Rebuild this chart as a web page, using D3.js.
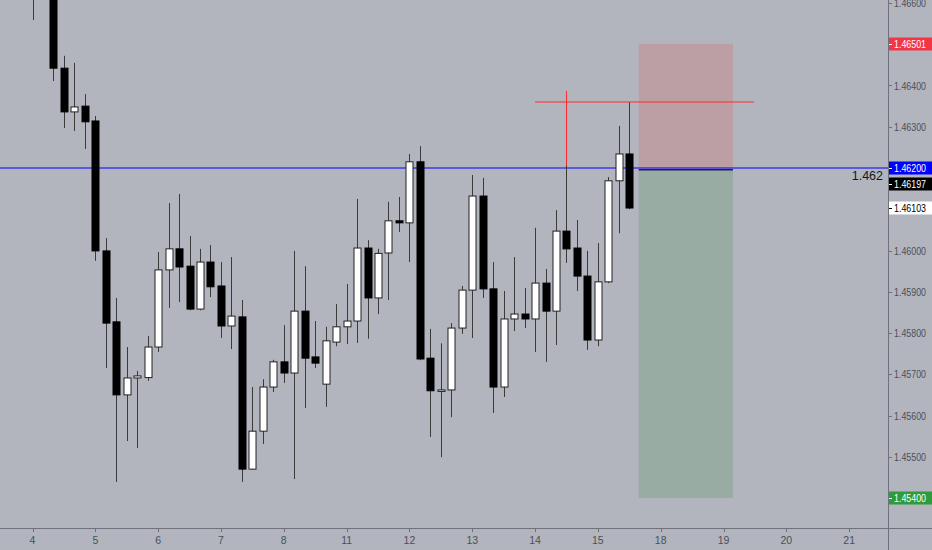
<!DOCTYPE html>
<html><head><meta charset="utf-8">
<script src="https://cdn.jsdelivr.net/npm/d3@7"></script>
<style>
html,body{margin:0;padding:0;background:#b2b5be;}
svg{display:block;}
</style></head>
<body>
<svg id="chart" width="932" height="550"></svg>
<script>
// ---- data ----
const opens  = [1.46650,1.46620,1.46700,1.46442,1.46336,1.46350,1.46314,1.45999,1.45827,1.45650,
  1.45691,1.45692,1.45766,1.45953,1.46004,1.45962,1.45858,1.45972,1.45914,1.45817,
  1.45839,1.45470,1.45562,1.45669,1.45730,1.45703,1.45853,1.45742,1.45676,1.45778,
  1.45815,1.45829,1.46006,1.45885,1.45994,1.46072,1.46067,1.46215,1.45739,1.45660,
  1.45662,1.45812,1.45904,1.46132,1.45907,1.45669,1.45834,1.45846,1.45834,1.45921,
  1.45853,1.46047,1.46006,1.45938,1.45783,1.45924,1.46169,1.46234];
const highs  = [1.46700,1.46720,1.46730,1.46472,1.46455,1.46379,1.46326,1.46030,1.45885,1.45766,
  1.45708,1.45793,1.45996,1.46115,1.46137,1.46035,1.46004,1.46013,1.45972,1.45984,
  1.45880,1.45669,1.45688,1.45735,1.45819,1.45999,1.45962,1.45829,1.45815,1.45870,
  1.45919,1.46125,1.46025,1.46004,1.46118,1.46130,1.46234,1.46253,1.45810,1.45775,
  1.45824,1.45914,1.46183,1.46176,1.45972,1.45902,1.45984,1.45909,1.46055,1.45955,
  1.46098,1.46207,1.46074,1.45999,1.46018,1.46178,1.46302,1.46360];
const lows   = [1.46559,1.46612,1.46411,1.46297,1.46290,1.46246,1.45975,1.45715,1.45439,1.45538,
  1.45521,1.45684,1.45754,1.45861,1.45875,1.45855,1.45855,1.45887,1.45788,1.45761,
  1.45439,1.45468,1.45531,1.45657,1.45679,1.45446,1.45618,1.45715,1.45621,1.45768,
  1.45773,1.45776,1.45786,1.45846,1.45880,1.46045,1.45972,1.45734,1.45548,1.45499,
  1.45596,1.45798,1.45788,1.45885,1.45606,1.45645,1.45805,1.45812,1.45754,1.45730,
  1.45771,1.45970,1.45902,1.45759,1.45768,1.45921,1.46042,1.46100];
const closes = [1.46620,1.46700,1.46442,1.46336,1.46348,1.46312,1.45999,1.45824,1.45650,1.45691,
  1.45696,1.45766,1.45953,1.46004,1.45960,1.45858,1.45972,1.45912,1.45817,1.45841,
  1.45470,1.45562,1.45669,1.45730,1.45703,1.45853,1.45739,1.45727,1.45781,1.45815,
  1.45829,1.46006,1.45885,1.45993,1.46072,1.46067,1.46215,1.45737,1.45660,1.45662,
  1.45812,1.45904,1.46132,1.45907,1.45669,1.45834,1.45846,1.45834,1.45921,1.45853,
  1.46047,1.46004,1.45938,1.45783,1.45924,1.46169,1.46234,1.46103];

const dayLabels = ["4","5","6","7","8","11","12","13","14","15","18","19","20","21"];
const candlesPerDay = 6;
const priceTicks = [1.466,1.464,1.463,1.461,1.460,1.459,1.458,1.457,1.456,1.455];

// drawings
const hLinePrice = 1.46200, hLineText = "1.462";
const stopLine = {price:1.46360, from:48, to:68.9};
const vLine = {index:51, top:1.46387, bottom:1.46207};
const position = {from:57.9, to:66.9, entry:1.46197, target:1.45400, stop:1.46501};

// axis tags
const tags = [
  {label:"1.46501", value:1.46501, bg:"#f23645", fg:"#ffffff"},
  {label:"1.46200", value:1.46200, bg:"#0000ff", fg:"#ffffff"},
  {label:"1.46197", value:1.46197, bg:"#000000", fg:"#ffffff", shift:15},
  {label:"1.46103", value:1.46103, bg:"#ffffff", fg:"#000000"},
  {label:"1.45400", value:1.45400, bg:"#2e9b3c", fg:"#ffffff"}
];

// ---- layout ----
const W = 932, H = 550, plotR = 888, plotB = 528;
const svg = d3.select("#chart");
const x = d3.scaleLinear().domain([0, 78]).range([32.5, 32.5 + 78*10.47]);
const y = d3.scaleLinear().domain([1.454, 1.466]).range([498, 3]);
const font = "'Liberation Sans','DejaVu Sans',sans-serif";
const priceTextLen = 32;

svg.append("rect").attr("width",W).attr("height",H).attr("fill","#b2b5be");
svg.append("defs").append("clipPath").attr("id","plot")
  .append("rect").attr("x",0).attr("y",0).attr("width",plotR).attr("height",plotB);
const g = svg.append("g").attr("clip-path","url(#plot)");

// position box
g.append("rect").attr("x",x(position.from)).attr("width",x(position.to)-x(position.from))
  .attr("y",y(position.stop)).attr("height",y(position.entry)-y(position.stop))
  .attr("fill","#bb9fa4");
g.append("rect").attr("x",x(position.from)).attr("width",x(position.to)-x(position.from))
  .attr("y",y(position.entry)).attr("height",y(position.target)-y(position.entry))
  .attr("fill","#98aca3");

// horizontal blue line
g.append("line").attr("x1",0).attr("x2",plotR).attr("y1",y(hLinePrice)).attr("y2",y(hLinePrice))
  .attr("stroke","#0000ff").attr("stroke-width",1);
// entry line
g.append("line").attr("x1",x(position.from)).attr("x2",x(position.to))
  .attr("y1",y(position.entry)+0.5).attr("y2",y(position.entry)+0.5)
  .attr("stroke","#1b1f5e").attr("stroke-width",1.5);

// candles
const data = opens.map((o,i)=>({i, o, h:highs[i], l:lows[i], c:closes[i]}));
const cg = g.append("g");
cg.selectAll("line.wick").data(data).join("line").attr("class","wick")
  .attr("x1",d=>Math.round(x(d.i))+0.5).attr("x2",d=>Math.round(x(d.i))+0.5)
  .attr("y1",d=>y(d.h)).attr("y2",d=>y(d.l))
  .attr("stroke","#3a3a3a").attr("stroke-width",1);
cg.selectAll("rect.body").data(data).join("rect").attr("class","body")
  .attr("x",d=>Math.round(x(d.i))-3)
  .attr("width",7)
  .attr("y",d=>y(Math.max(d.o,d.c)))
  .attr("height",d=>Math.max(1.5, Math.abs(y(d.o)-y(d.c))))
  .attr("fill",d=>d.c>=d.o?"#ffffff":"#000000")
  .attr("stroke",d=>d.c>=d.o?"#222222":"#000000").attr("stroke-width",1);

// red drawings
g.append("line").attr("x1",x(stopLine.from)).attr("x2",x(stopLine.to))
  .attr("y1",y(stopLine.price)).attr("y2",y(stopLine.price))
  .attr("stroke","#ff2a2a").attr("stroke-width",1);
g.append("line").attr("x1",Math.round(x(vLine.index))+0.5).attr("x2",Math.round(x(vLine.index))+0.5)
  .attr("y1",y(vLine.top)).attr("y2",y(vLine.bottom))
  .attr("stroke","#ff2a2a").attr("stroke-width",1);

// horizontal line text
svg.append("text").attr("x",883).attr("y",y(hLinePrice)+12).attr("text-anchor","end")
  .attr("font-family","'Liberation Sans',Arial,sans-serif").attr("font-size",12.5)
  .attr("fill","#131722").text(hLineText);

// axes lines
svg.append("line").attr("x1",plotR+0.5).attr("x2",plotR+0.5).attr("y1",0).attr("y2",H)
  .attr("stroke","#6f727c").attr("stroke-width",1);
svg.append("line").attr("x1",0).attr("x2",W).attr("y1",plotB+0.5).attr("y2",plotB+0.5)
  .attr("stroke","#6f727c").attr("stroke-width",1);

// x-axis
const xTicks = dayLabels.map((lab,k)=>({lab, i:k*candlesPerDay}));
const xa = svg.append("g");
xa.selectAll("line").data(xTicks).join("line")
  .attr("x1",d=>Math.round(x(d.i))+0.5).attr("x2",d=>Math.round(x(d.i))+0.5)
  .attr("y1",plotB).attr("y2",plotB+4).attr("stroke","#6f727c");
xa.selectAll("text").data(xTicks).join("text")
  .attr("x",d=>x(d.i)).attr("y",544).attr("text-anchor","middle")
  .attr("font-family",font).attr("font-size",10.5).attr("fill","#4c4f59")
  .text(d=>d.lab);

// y-axis ticks
const ya = svg.append("g");
ya.selectAll("line").data(priceTicks).join("line")
  .attr("x1",plotR).attr("x2",plotR+4).attr("y1",d=>Math.round(y(d))+0.5).attr("y2",d=>Math.round(y(d))+0.5)
  .attr("stroke","#6f727c");
ya.selectAll("text").data(priceTicks).join("text")
  .attr("x",894).attr("y",d=>y(d)+4).attr("font-family",font).attr("font-size",10.5)
  .attr("textLength",priceTextLen).attr("lengthAdjust","spacingAndGlyphs")
  .attr("fill","#4c4f59").text(d=>d.toFixed(5));

// tags
const tg = svg.append("g").selectAll("g").data(tags).join("g")
  .attr("transform",d=>`translate(${plotR+1},${Math.round(y(d.value)+(d.shift||0))})`);
tg.append("rect").attr("x",0).attr("y",-6.5).attr("width",W-plotR).attr("height",13)
  .attr("fill",d=>d.bg);
tg.append("line").attr("x1",0).attr("x2",3).attr("y1",0.5).attr("y2",0.5).attr("stroke",d=>d.fg);
tg.append("text").attr("x",5).attr("y",4).attr("font-family",font).attr("font-size",10.5)
  .attr("textLength",priceTextLen).attr("lengthAdjust","spacingAndGlyphs")
  .attr("fill",d=>d.fg).text(d=>d.label);
</script>
</body></html>
